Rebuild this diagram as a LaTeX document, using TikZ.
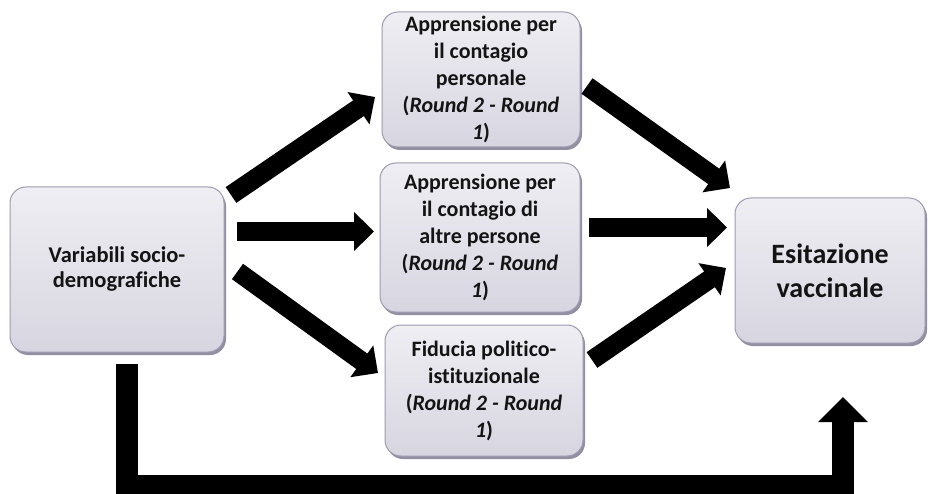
\documentclass[tikz,border=0pt]{standalone}
\usepackage{fontspec}
\setmainfont[Ligatures=NoCommon]{Carlito}
\usetikzlibrary{arrows.meta,shadows}
\definecolor{boxtop}{HTML}{EFEEF3}
\definecolor{boxbot}{HTML}{D7D5E0}
\definecolor{boxedge}{HTML}{9E9BB0}
\definecolor{shadowc}{HTML}{7F7C92}
\definecolor{txt}{HTML}{141414}
\tikzset{
  box/.style={rectangle, rounded corners=16pt, draw=boxedge, line width=1pt,
    top color=boxtop, bottom color=boxbot, align=center, inner sep=0pt, text=txt,
    font=\bfseries\fontsize{22pt}{27pt}\selectfont,
    drop shadow={shadow xshift=2pt, shadow yshift=-3pt, fill=shadowc, opacity=0.85}},
  bigarrow/.style={line width=19pt, -{Triangle[length=20pt,width=38pt]}},
}
\begin{document}
\begin{tikzpicture}[x=1pt,y=-1pt]
\useasboundingbox (0,0) rectangle (928,494);
\fill[white] (0,0) rectangle (928,494);
% boxes
\node[box, minimum width=214pt, minimum height=165pt,
      font=\bfseries\fontsize{22.5pt}{25pt}\selectfont] (socio) at (117,269.5)
  {Variabili socio-\\demografiche};
\node[box, minimum width=198pt, minimum height=135pt] (pers) at (481,79.5)
  {Apprensione per\\il contagio\\personale\\(\textit{Round 2 - Round}\\\textit{1})};
\node[box, minimum width=200pt, minimum height=149pt] (altre) at (480,237.5)
  {Apprensione per\\il contagio di\\altre persone\\(\textit{Round 2 - Round}\\\textit{1})};
\node[box, minimum width=198pt, minimum height=131pt] (fid) at (484,390.5)
  {Fiducia politico-\\istituzionale\\(\textit{Round 2 - Round}\\\textit{1})};
\node[box, minimum width=190pt, minimum height=145pt,
      font=\bfseries\fontsize{28pt}{34pt}\selectfont] (esit) at (830,270.5)
  {Esitazione\\vaccinale};
% arrow end points
\coordinate (a1s) at (231,195); \coordinate (a1e) at (375,97);
\coordinate (a2s) at (237,231.5); \coordinate (a2e) at (374,231.5);
\coordinate (a3s) at (237.5,271.5); \coordinate (a3e) at (378,373);
\coordinate (a4s) at (587,86); \coordinate (a4e) at (730,188);
\coordinate (a5s) at (589,227.5); \coordinate (a5e) at (727,227.5);
\coordinate (a6s) at (592,360); \coordinate (a6e) at (726,268);
\coordinate (Ls) at (126.5,364); \coordinate (Lc1) at (126.5,486);
\coordinate (Lc2) at (843,486); \coordinate (Le) at (843,397);
% arrows
\draw[bigarrow] (a1s) -- (a1e);
\draw[bigarrow] (a2s) -- (a2e);
\draw[bigarrow] (a3s) -- (a3e);
\draw[bigarrow] (a4s) -- (a4e);
\draw[bigarrow] (a5s) -- (a5e);
\draw[bigarrow] (a6s) -- (a6e);
\draw[line width=22pt, line join=miter, -{Triangle[length=25pt,width=48pt]}]
  (Ls) -- (Lc1) -- (Lc2) -- (Le);
\end{tikzpicture}
\end{document}
